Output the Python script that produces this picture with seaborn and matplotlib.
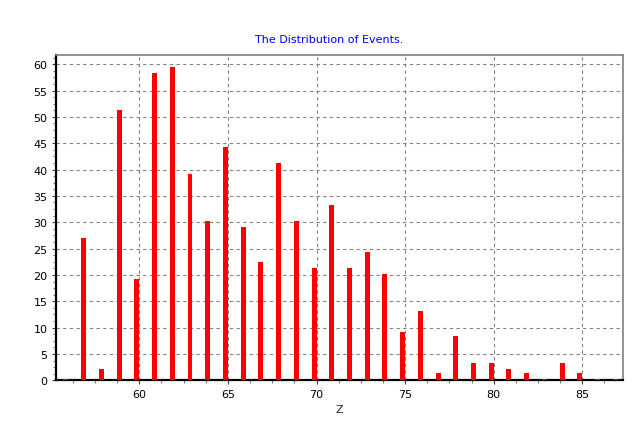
import matplotlib
matplotlib.use("Agg")
import matplotlib.pyplot as plt
from matplotlib.ticker import MultipleLocator
import seaborn as sns
import numpy as np

# Data
z_values = [56, 57, 58, 59, 60, 61, 62, 63, 64, 65, 66, 67, 68, 69, 70, 71,
            72, 73, 74, 75, 76, 77, 78, 79, 80, 81, 82, 83, 84, 85, 86, 87]
counts = [0.2, 27.1, 2.1, 51.3, 19.3, 58.3, 59.4, 39.1, 30.2, 44.3, 29.1, 22.4,
          41.2, 30.2, 21.3, 33.3, 21.3, 24.3, 20.1, 9.2, 13.2, 1.4, 8.4, 3.3,
          3.3, 2.2, 1.4, 0.2, 3.3, 1.4, 0.2, 0.2]
title = "The Distribution of Events."
xlabel = "Z"

sns.set_style("white")
plt.rcParams['font.family'] = ['DejaVu Sans']

fig = plt.figure(figsize=(6.32, 4.31), dpi=100)
ax = fig.add_axes([0.0881, 0.1153, 0.9862 - 0.0881, 0.8708 - 0.1153])

bar_w = 0.28
xpos = np.array(z_values, dtype=float) - bar_w / 2
sns.barplot(x=xpos, y=counts, native_scale=True, width=bar_w, color="#ff0000",
            saturation=1, edgecolor="none", linewidth=0, ax=ax, zorder=3)

ax.set_xlim(55.28, 87.31)
ax.set_ylim(0, 61.8)
ax.xaxis.set_major_locator(MultipleLocator(5))
ax.xaxis.set_minor_locator(MultipleLocator(1.25))
ax.yaxis.set_major_locator(MultipleLocator(5))
ax.yaxis.set_minor_locator(MultipleLocator(1.25))

ax.grid(True, which="major", color="#808080", linestyle=(0, (3, 3)), linewidth=0.8, zorder=0)
ax.set_axisbelow(True)

ax.tick_params(axis="both", which="major", direction="out", length=3, width=0.8,
               color="#404040", labelsize=8, labelcolor="#000000", pad=3)
ax.tick_params(axis="both", which="minor", direction="out", length=2, width=0.8,
               color="#808080")
ax.tick_params(axis="x", bottom=True, which="both")
ax.tick_params(axis="y", left=True, which="both")

for side in ("left", "bottom"):
    ax.spines[side].set_color("#000000")
    ax.spines[side].set_linewidth(1.6)
for side in ("top", "right"):
    ax.spines[side].set_color("#808080")
    ax.spines[side].set_linewidth(1.2)

ax.set_xlabel(xlabel, fontsize=8, labelpad=4)
ax.set_ylabel("")
fig.text(329.5 / 632, 1 - 40 / 431, title, color="#0000ff", fontsize=8,
         ha="center", va="center")

fig.savefig("out.png", dpi=100)
